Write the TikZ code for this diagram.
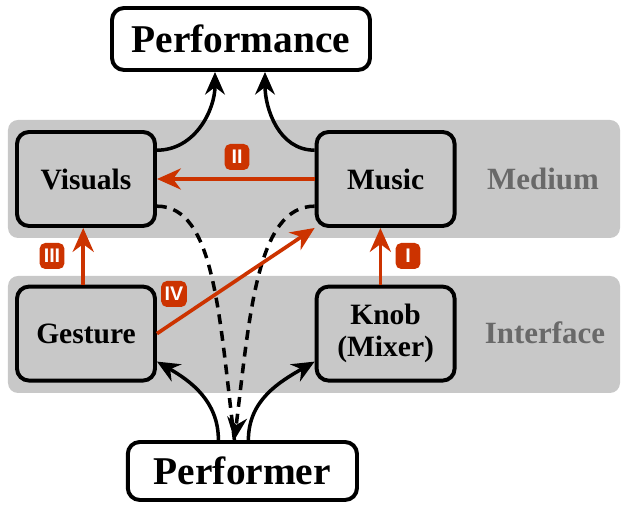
\documentclass[tikz,border=0pt]{standalone}
\usepackage{fontspec}
\setmainfont{Liberation Serif}
\setsansfont{Liberation Sans}
\usetikzlibrary{arrows.meta,positioning}
\definecolor{bandgray}{RGB}{200,200,200}
\definecolor{linkred}{RGB}{204,51,0}
\definecolor{layergray}{RGB}{105,105,105}
\tikzset{
  box/.style={rectangle,rounded corners=0.3cm,draw=black,line width=2.8pt,fill=bandgray,minimum width=3.45cm,minimum height=2.35cm,align=center,font=\bfseries\fontsize{21}{23}\selectfont},
  endbox/.style={rectangle,rounded corners=0.3cm,draw=black,line width=2.8pt,fill=white,font=\bfseries\fontsize{28}{32}\selectfont},
  band/.style={fill=bandgray,rounded corners=0.25cm},
  layer/.style={text=layergray,font=\bfseries\fontsize{22}{26}\selectfont},
  badge/.style={rectangle,rounded corners=0.14cm,fill=linkred,text=white,font=\sffamily\bfseries\fontsize{14}{14}\selectfont,minimum width=0.62cm,minimum height=0.65cm,inner xsep=2.5pt,inner ysep=0pt},
  flow/.style={draw=black,line width=2.5pt,-{Stealth[length=16pt,width=14pt]}},
  hidden/.style={draw=black,line width=2.5pt,dash pattern=on 7pt off 5pt},
  link/.style={draw=linkred,line width=2.6pt,-{Stealth[length=17pt,width=15pt]}}
}
\begin{document}
\begin{tikzpicture}
\useasboundingbox (0,0) rectangle (15.55,12.65);
% layers
\fill[band] (0.2,6.7) rectangle (15.5,9.65);
\fill[band] (0.2,2.825) rectangle (15.5,5.75);
\node[layer] (medium) at (13.575,8.175) {Medium};
\node[layer] (interface) at (13.625,4.325) {Interface};
% boxes
\node[endbox,minimum width=6.45cm,minimum height=1.55cm] (perf) at (6.025,11.675) {Performance};
\node[box] (vis)  at (2.15,8.175) {Visuals};
\node[box] (mus)  at (9.64,8.175) {Music};
\node[box] (ges)  at (2.15,4.31)  {Gesture};
\node[box] (knob) at (9.64,4.31)  {Knob\\(Mixer)};
\node[endbox,minimum width=5.73cm,minimum height=1.45cm] (user) at (6.06,0.875) {Performer};
% black connectors
\draw[flow] ([yshift=0.72cm]vis.east) to[out=0,in=-90] ([xshift=-0.65cm]perf.south);
\draw[flow] ([yshift=0.72cm]mus.west) to[out=180,in=-90] ([xshift=0.6cm]perf.south);
\draw[flow] ([xshift=-0.6cm]user.north) to[out=90,in=-30] ([yshift=-0.7cm]ges.east);
\draw[flow] ([xshift=0.15cm]user.north) to[out=90,in=210] ([yshift=-0.7cm]knob.west);
\coordinate (hit) at ([xshift=-0.2cm]user.north);
\draw[hidden] ([yshift=-0.68cm]vis.east) to[out=0,in=97,out looseness=0.6,in looseness=1.3] (hit);
\draw[hidden,-{Stealth[length=16pt,width=14pt]}] ([yshift=-0.68cm]mus.west) to[out=180,in=83,out looseness=0.6,in looseness=1.3] (hit);
% red connectors
\draw[link] (mus.west) -- (vis.east);
\draw[link] ([xshift=-0.07cm]ges.north) -- ([xshift=-0.07cm]vis.south);
\draw[link] ([xshift=-0.13cm]knob.north) -- ([xshift=-0.13cm]mus.south);
\draw[link] (ges.east) -- (mus.south west);
\node[badge] (b2) at (5.925,8.725) {II};
\node[badge] (b3) at (1.3,6.25)   {III};
\node[badge] (b1) at (10.2,6.25)  {I};
\node[badge] (b4) at (4.35,5.3)   {IV};
\end{tikzpicture}
\end{document}
